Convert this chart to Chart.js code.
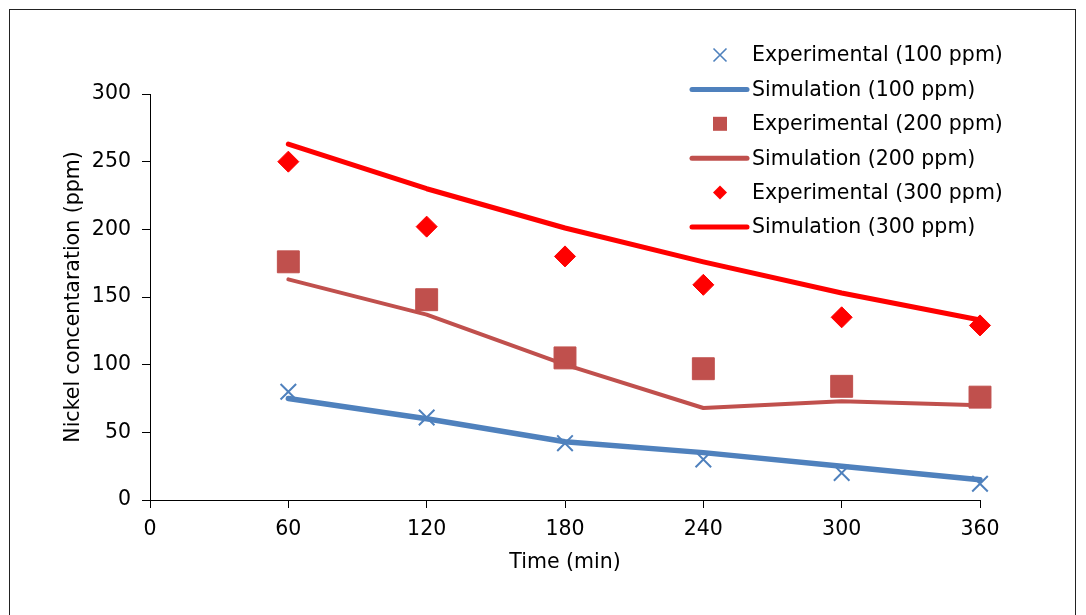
<!DOCTYPE html>
<html>
<head>
<meta charset="utf-8">
<script src="https://cdn.jsdelivr.net/npm/chart.js@4/dist/chart.umd.min.js"></script>
<style>
  html, body { margin: 0; padding: 0; background: #fff; }
  canvas { display: block; }
</style>
</head>
<body>
<canvas id="c" width="1086" height="615"></canvas>
<script>
// ---- Data ----
const timeMin = [60, 120, 180, 240, 300, 360];
const exp100 = [80, 61, 42, 30, 20, 12];
const sim100 = [75, 60, 43, 35, 25, 15];
const exp200 = [176, 148, 105, 97, 84, 76];
const sim200 = [163, 137, 100, 68, 73, 70];
const exp300 = [250, 202, 180, 159, 135, 129];
const sim300 = [263, 230, 201, 176, 153, 133];
const seriesLabels = [
  'Experimental (100 ppm)', 'Simulation (100 ppm)',
  'Experimental (200 ppm)', 'Simulation (200 ppm)',
  'Experimental (300 ppm)', 'Simulation (300 ppm)'
];
const xTitle = 'Time (min)';
const yTitle = 'Nickel concentaration (ppm)';

const FONT = '"DejaVu Sans", sans-serif';
const FSIZE = 20.5;
const BLUE = '#4F81BD', BROWN = '#C0504D', RED = '#FF0000';

const pts = arr => arr.map((v, i) => ({ x: timeMin[i], y: v }));

const datasets = [
  { label: seriesLabels[0], data: pts(exp100), showLine: false, pointStyle: 'crossRot',
    pointRadius: 11, pointBorderWidth: 2, borderColor: BLUE, backgroundColor: BLUE, order: 6,
    legendMarker: 'cross' },
  { label: seriesLabels[1], data: pts(sim100), showLine: true, pointRadius: 0,
    borderColor: BLUE, backgroundColor: BLUE, borderWidth: 5.5, order: 5 },
  { label: seriesLabels[2], data: pts(exp200), showLine: false, pointStyle: 'rect',
    pointRadius: 15.5, pointBorderWidth: 1, borderColor: BROWN, backgroundColor: BROWN, order: 4,
    legendMarker: 'square' },
  { label: seriesLabels[3], data: pts(sim200), showLine: true, pointRadius: 0,
    borderColor: BROWN, backgroundColor: BROWN, borderWidth: 4, order: 3 },
  { label: seriesLabels[4], data: pts(exp300), showLine: false, pointStyle: 'rectRot',
    pointRadius: 10.5, pointBorderWidth: 1, borderColor: RED, backgroundColor: RED, order: 2,
    legendMarker: 'diamond' },
  { label: seriesLabels[5], data: pts(sim300), showLine: true, pointRadius: 0,
    borderColor: RED, backgroundColor: RED, borderWidth: 5, order: 1 }
];
datasets.forEach(d => {
  d.borderCapStyle = 'round';
  d.borderJoinStyle = 'round';
  d.tension = 0;
  d.fill = false;
  d.clip = false;
  d.pointHoverRadius = d.pointRadius;
});

const framePlugin = {
  id: 'frame',
  beforeDraw(chart) {
    const ctx = chart.ctx;
    ctx.save();
    ctx.fillStyle = '#fff';
    ctx.fillRect(0, 0, chart.width, chart.height);
    ctx.strokeStyle = '#222';
    ctx.lineWidth = 1;
    ctx.strokeRect(9.5, 9.5, 1066, 640);
    ctx.restore();
  }
};

const legendPlugin = {
  id: 'customLegend',
  afterDraw(chart) {
    const ctx = chart.ctx;
    ctx.save();
    const x0 = 692, x1 = 747, mx = 720, tx = 752, y0 = 55, dy = 34.4;
    chart.data.datasets.forEach((ds, i) => {
      const y = y0 + i * dy;
      ctx.strokeStyle = ds.borderColor;
      ctx.fillStyle = ds.backgroundColor;
      if (ds.showLine) {
        ctx.lineWidth = 5;
        ctx.lineCap = 'round';
        ctx.beginPath();
        ctx.moveTo(x0, y);
        ctx.lineTo(x1, y);
        ctx.stroke();
      } else if (ds.legendMarker === 'cross') {
        const r = 6.5;
        ctx.lineWidth = 1.6;
        ctx.lineCap = 'butt';
        ctx.beginPath();
        ctx.moveTo(mx - r, y - r); ctx.lineTo(mx + r, y + r);
        ctx.moveTo(mx - r, y + r); ctx.lineTo(mx + r, y - r);
        ctx.stroke();
      } else if (ds.legendMarker === 'square') {
        ctx.fillRect(mx - 7, y - 7, 14, 14);
      } else if (ds.legendMarker === 'diamond') {
        const r = 7;
        ctx.beginPath();
        ctx.moveTo(mx, y - r); ctx.lineTo(mx + r, y);
        ctx.lineTo(mx, y + r); ctx.lineTo(mx - r, y);
        ctx.closePath();
        ctx.fill();
      }
      ctx.fillStyle = '#000';
      ctx.font = FSIZE + 'px ' + FONT;
      ctx.textBaseline = 'middle';
      ctx.textAlign = 'left';
      ctx.fillText(ds.label, tx, y + 1);
    });
    ctx.restore();
  }
};

new Chart(document.getElementById('c'), {
  type: 'scatter',
  data: { datasets },
  plugins: [framePlugin, legendPlugin],
  options: {
    responsive: false,
    animation: false,
    devicePixelRatio: 1,
    layout: { padding: { top: 94, right: 106, bottom: 0, left: 0 } },
    plugins: { legend: { display: false }, tooltip: { enabled: false } },
    scales: {
      x: {
        type: 'linear',
        min: 0, max: 360,
        afterFit(scale) { scale.height = 115; },
        ticks: { stepSize: 60, color: '#000', padding: 9, font: { family: FONT, size: FSIZE } },
        grid: { display: true, drawOnChartArea: false, drawTicks: true, tickLength: 8, color: '#000', lineWidth: 1 },
        border: { display: true, color: '#000', width: 1 },
        title: { display: true, text: xTitle, color: '#000', font: { family: FONT, size: FSIZE },
                 padding: { top: 0, bottom: 40 } }
      },
      y: {
        type: 'linear',
        min: 0, max: 300,
        afterFit(scale) { scale.width = 150; },
        ticks: { stepSize: 50, color: '#000', padding: 11, font: { family: FONT, size: FSIZE } },
        grid: { display: true, drawOnChartArea: false, drawTicks: true, tickLength: 8, color: '#000', lineWidth: 1 },
        border: { display: true, color: '#000', width: 1 },
        title: { display: true, text: yTitle, color: '#000', font: { family: FONT, size: FSIZE },
                 padding: { top: 61, bottom: 0 } }
      }
    }
  }
});
</script>
</body>
</html>
